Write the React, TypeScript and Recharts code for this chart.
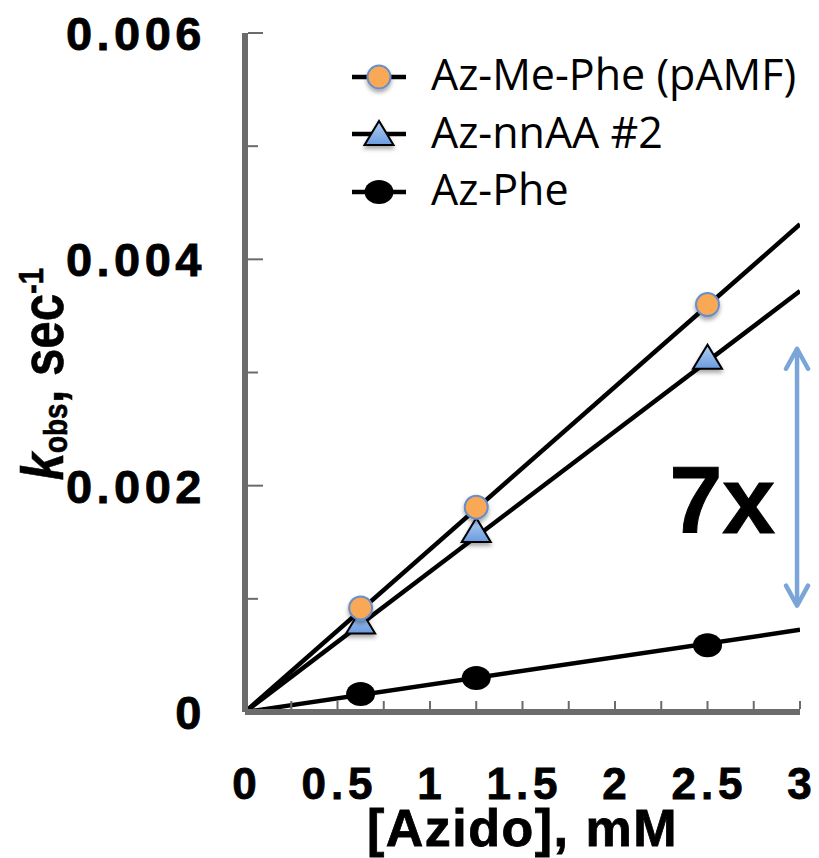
import React from 'react';
import {
  ComposedChart,
  Line,
  Scatter,
  XAxis,
  YAxis,
  ReferenceLine,
  ReferenceDot,
  Legend,
} from 'recharts';

// ---- data ----
const concentrations = [0.625, 1.25, 2.5];
const pamfValues = [0.00092, 0.00181, 0.0036];
const nnaaValues = [0.00079, 0.0016, 0.00313];
const pheValues = [0.00016, 0.0003, 0.00059];

const fitX = [0, 3];
const pamfFit = [0, 0.00431];
const nnaaFit = [0, 0.00372];
const pheFit = [0, 0.000726];

const xTicks = [0, 0.25, 0.5, 0.75, 1, 1.25, 1.5, 1.75, 2, 2.25, 2.5, 2.75, 3];
const xTickLabels = ['0', '0.5', '1', '1.5', '2', '2.5', '3'];
const yTicks = [0, 0.001, 0.002, 0.003, 0.004, 0.005, 0.006];
const yTickLabels = ['0', '0.002', '0.004', '0.006'];

const seriesNames = ['Az-Me-Phe (pAMF)', 'Az-nnAA #2', 'Az-Phe'];
const xAxisTitle = '[Azido], mM';
const foldLabel = '7x';
const foldLabelPos = { x: 2.58, y: 0.00188 };
const arrowX = 2.984;
const arrowRange = [0.00094, 0.00321];

// ---- derived tables ----
const toPoints = (xs: number[], ys: number[]) => xs.map((x, i) => ({ x, y: ys[i] }));
const pamfPoints = toPoints(concentrations, pamfValues);
const nnaaPoints = toPoints(concentrations, nnaaValues);
const phePoints = toPoints(concentrations, pheValues);
const pamfLine = toPoints(fitX, pamfFit);
const nnaaLine = toPoints(fitX, nnaaFit);
const pheLine = toPoints(fitX, pheFit);

const AXIS_COLOR = '#6b6b6b';
const BOLD_FONT = '"Liberation Sans", Arial, Helvetica, sans-serif';

const fmtX = (v: number) => {
  const s = String(v);
  return xTickLabels.includes(s) ? s : '';
};
const fmtY = (v: number) => {
  const s = v === 0 ? '0' : v.toFixed(3);
  return yTickLabels.includes(s) ? s : '';
};

// ---- marker shapes ----
const OrangeMarker = ({ cx, cy }: any) => (
  <circle cx={cx} cy={cy} r={11.5} fill="#f9a857" stroke="#6a8fc8" strokeWidth={2} filter="url(#mkShadow)" />
);
const TriangleMarker = ({ cx, cy }: any) => (
  <polygon
    points={`${cx},${cy - 13} ${cx - 14.5},${cy + 11} ${cx + 14.5},${cy + 11}`}
    fill="url(#triGrad)"
    stroke="#000"
    strokeWidth={2}
    strokeLinejoin="miter"
    filter="url(#mkShadow)"
  />
);
const BlackMarker = ({ cx, cy }: any) => <ellipse cx={cx} cy={cy} rx={14.5} ry={12} fill="#000" />;

const markers = [OrangeMarker, TriangleMarker, BlackMarker];

// ---- axis ticks ----
const XTick = (props: any) => {
  const { x, y, payload } = props;
  const label = fmtX(payload.value);
  return (
    <g>
      <line x1={x} x2={x} y1={y - 3} y2={y - 11} stroke={AXIS_COLOR} strokeWidth={2} />
      {label !== '' && (
        <text
          x={x + 2}
          y={y + 87}
          textAnchor="middle"
          fontFamily={BOLD_FONT}
          fontWeight="bold"
          fontSize={44}
          letterSpacing={5}
          stroke="#000"
          strokeWidth={0.8}
          fill="#000"
        >
          {label}
        </text>
      )}
    </g>
  );
};

const YTick = (props: any) => {
  const { x, y, payload } = props;
  const label = fmtY(payload.value);
  const len = label !== '' ? 15 : 10;
  return (
    <g>
      <line x1={x + 3} x2={x + 3 + len} y1={y} y2={y} stroke={AXIS_COLOR} strokeWidth={2} />
      {label !== '' && (
        <text
          x={x - 39}
          y={y + 17}
          textAnchor="end"
          fontFamily={BOLD_FONT}
          fontWeight="bold"
          fontSize={47}
          letterSpacing={4.5}
          stroke="#000"
          strokeWidth={0.8}
          fill="#000"
        >
          {label}
        </text>
      )}
    </g>
  );
};

const YLabel = () => (
  <g>
    <defs>
      <filter id="mkShadow" x="-50%" y="-50%" width="200%" height="220%">
        <feDropShadow dx="0" dy="3" stdDeviation="2" floodColor="#000" floodOpacity="0.35" />
      </filter>
      <linearGradient id="triGrad" x1="0" y1="0" x2="0" y2="1">
        <stop offset="0%" stopColor="#b3d0f4" />
        <stop offset="100%" stopColor="#6a9be0" />
      </linearGradient>
    </defs>
    <text
      transform="translate(55, 366) rotate(-90) scale(0.82, 1)"
      textAnchor="middle"
      fontFamily={BOLD_FONT}
      fontWeight="bold"
      fontSize={60}
      stroke="#000"
      strokeWidth={0.6}
      fill="#000"
    >
      <tspan fontStyle="italic">k</tspan>
      <tspan fontSize={34} dy={4}>obs</tspan>
      <tspan dy={-4}>, sec</tspan>
      <tspan fontSize={36} dy={-20}>-1</tspan>
    </text>
  </g>
);

const XLabel = (props: any) => {
  const vb = props.viewBox || {};
  const cx = (vb.x ?? 237) + (vb.width ?? 555) / 2;
  return (
    <text
      x={cx}
      y={838}
      textAnchor="middle"
      fontFamily={BOLD_FONT}
      fontWeight="bold"
      fontSize={52}
      letterSpacing={1.5}
      stroke="#000"
      strokeWidth={0.8}
      fill="#000"
    >
      {xAxisTitle}
    </text>
  );
};

const ArrowShape = (p: any) => {
  const x = p.x1;
  const top = Math.min(p.y1, p.y2);
  const bottom = Math.max(p.y1, p.y2);
  return (
    <g stroke="#7ba4d8" strokeWidth={4.5} fill="none" strokeLinecap="round" strokeLinejoin="round">
      <line x1={x} y1={top + 2} x2={x} y2={bottom - 2} />
      <polyline points={`${x - 11},${top + 20} ${x},${top} ${x + 11},${top + 20}`} />
      <polyline points={`${x - 11},${bottom - 20} ${x},${bottom} ${x + 11},${bottom - 20}`} />
    </g>
  );
};

const FoldText = (p: any) => (
  <text
    x={p.cx}
    y={p.cy + 34}
    textAnchor="middle"
    fontFamily={BOLD_FONT}
    fontWeight="bold"
    fontSize={95}
    stroke="#000"
    strokeWidth={1}
    fill="#000"
  >
    {foldLabel}
  </text>
);

const LegendContent = () => (
  <div style={{ fontFamily: '"Open Sans", sans-serif', fontSize: 43, color: '#000', lineHeight: 1 }}>
    {seriesNames.map((name, i) => {
      const M = markers[i];
      return (
        <div key={name} style={{ display: 'flex', alignItems: 'center', height: 57.5 }}>
          <svg width={56} height={44} style={{ overflow: 'visible' }}>
            <line x1={0} x2={54} y1={22} y2={22} stroke="#000" strokeWidth={4.5} />
            <M cx={27} cy={22} />
          </svg>
          <span style={{ marginLeft: 23, whiteSpace: 'nowrap', position: 'relative', top: -3 }}>{name}</span>
        </div>
      );
    })}
  </div>
);

export default function App() {
  return (
    <div style={{ width: 811, height: 850 }}>
      <ComposedChart width={811} height={850} margin={{ top: 25, right: 19, left: 0, bottom: 0 }}>
        <XAxis
          type="number"
          dataKey="x"
          domain={[0, 3]}
          ticks={xTicks}
          interval={0}
          tickSize={0}
          tickMargin={0}
          tickLine={false}
          tick={XTick}
          height={146}
          axisLine={{ stroke: AXIS_COLOR, strokeWidth: 6 }}
          label={{ content: XLabel }}
          allowDataOverflow
        />
        <YAxis
          type="number"
          dataKey="y"
          domain={[0, 0.006]}
          ticks={yTicks}
          interval={0}
          tickSize={0}
          tickMargin={0}
          tickLine={false}
          tick={YTick}
          width={237}
          axisLine={{ stroke: AXIS_COLOR, strokeWidth: 6 }}
          label={{ content: YLabel }}
          allowDataOverflow
        />
        <Legend
          layout="vertical"
          align="center"
          verticalAlign="middle"
          content={LegendContent}
          wrapperStyle={{ position: 'absolute', left: 344, top: 40, width: 470, height: 180 }}
        />
        <Line data={pamfLine} dataKey="y" stroke="#000" strokeWidth={4.5} dot={false} isAnimationActive={false} legendType="none" />
        <Line data={nnaaLine} dataKey="y" stroke="#000" strokeWidth={4.5} dot={false} isAnimationActive={false} legendType="none" />
        <Line data={pheLine} dataKey="y" stroke="#000" strokeWidth={4.5} dot={false} isAnimationActive={false} legendType="none" />
        <Scatter name={seriesNames[2]} data={phePoints} dataKey="y" shape={BlackMarker} isAnimationActive={false} />
        <Scatter name={seriesNames[1]} data={nnaaPoints} dataKey="y" shape={TriangleMarker} isAnimationActive={false} />
        <Scatter name={seriesNames[0]} data={pamfPoints} dataKey="y" shape={OrangeMarker} isAnimationActive={false} />
        <ReferenceLine
          segment={[
            { x: arrowX, y: arrowRange[0] },
            { x: arrowX, y: arrowRange[1] },
          ]}
          shape={ArrowShape}
        />
        <ReferenceDot x={foldLabelPos.x} y={foldLabelPos.y} r={1} shape={FoldText} />
      </ComposedChart>
    </div>
  );
}
